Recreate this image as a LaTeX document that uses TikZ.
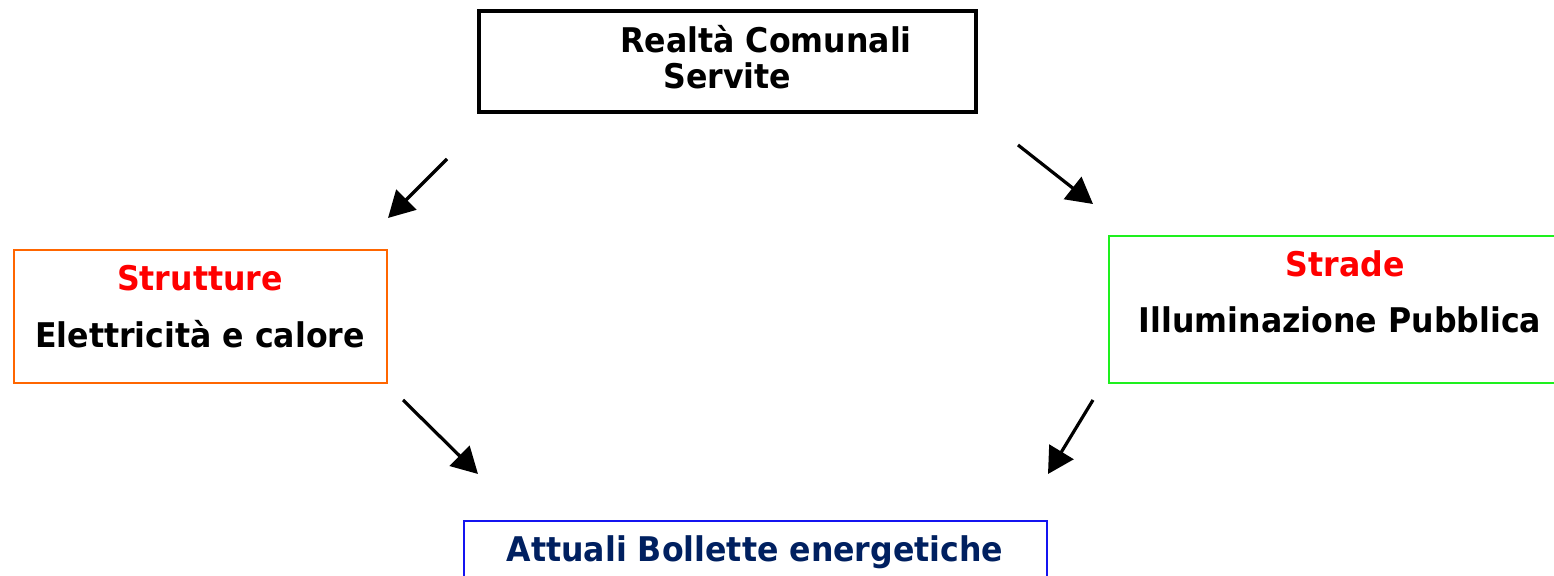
\documentclass[tikz,border=0pt]{standalone}
\usepackage{fontspec}
\setmainfont[FakeStretch=0.93]{DejaVu Sans}
\usetikzlibrary{arrows.meta}
\usetikzlibrary{positioning}

\definecolor{boxorange}{RGB}{255,102,0}
\definecolor{boxgreen}{RGB}{30,240,30}
\definecolor{boxblue}{RGB}{20,20,240}
\definecolor{navy}{RGB}{0,32,96}

\tikzset{
  box/.style={draw, inner sep=0pt, line width=1pt},
  txt/.style={inner sep=0pt, font=\fontsize{17}{20}\selectfont\bfseries},
  flow/.style={line width=1.6pt, -{Triangle[length=13pt, width=14pt]}}
}

\begin{document}
\begin{tikzpicture}[x=0.5pt, y=-0.5pt]
    \useasboundingbox (0, 0) rectangle (1554, 576);
    \clip (0, 0) rectangle (1554, 576);

    % boxes
    \node [box, line width=2pt, minimum width=248.5pt, minimum height=50.5pt] (comuni) at (727.5, 61.5) {};
    \node [box, draw=boxorange, minimum width=186.5pt, minimum height=66.5pt] (strutture) at (200.5, 316.5) {};
    \node [box, draw=boxgreen, minimum width=250pt, minimum height=73.5pt] (strade) at (1359, 309.5) {};
    \node [box, draw=boxblue, minimum width=291.5pt, minimum height=49.5pt] (bollette) at (755.5, 570.5) {};

    % texts
    \node [txt, anchor=base west] (comuni1) at (620, 53) {Realtà Comunali};
    \node [txt, anchor=base west] (comuni2) at (663, 89) {Servite};
    \node [txt, anchor=base, red] (strutt1) at (200, 291) {Strutture};
    \node [txt, anchor=base] (strutt2) at (200, 348) {Elettricità e calore};
    \node [txt, anchor=base, red] (strade1) at (1345, 277) {Strade};
    \node [txt, anchor=base] (strade2) at (1340, 333) {Illuminazione Pubblica};
    \node [txt, anchor=base, navy] (bollette1) at (755, 562) {Attuali Bollette energetiche};

    % arrows
    \coordinate (a1) at (447, 159);
    \coordinate (b1) at (388, 218);
    \coordinate (a2) at (1018, 145);
    \coordinate (b2) at (1093, 204);
    \coordinate (a3) at (403, 400);
    \coordinate (b3) at (478, 474);
    \coordinate (a4) at (1093, 400);
    \coordinate (b4) at (1048, 474);
    \draw [flow] (a1) -- (b1);
    \draw [flow] (a2) -- (b2);
    \draw [flow] (a3) -- (b3);
    \draw [flow] (a4) -- (b4);
\end{tikzpicture}
\end{document}
